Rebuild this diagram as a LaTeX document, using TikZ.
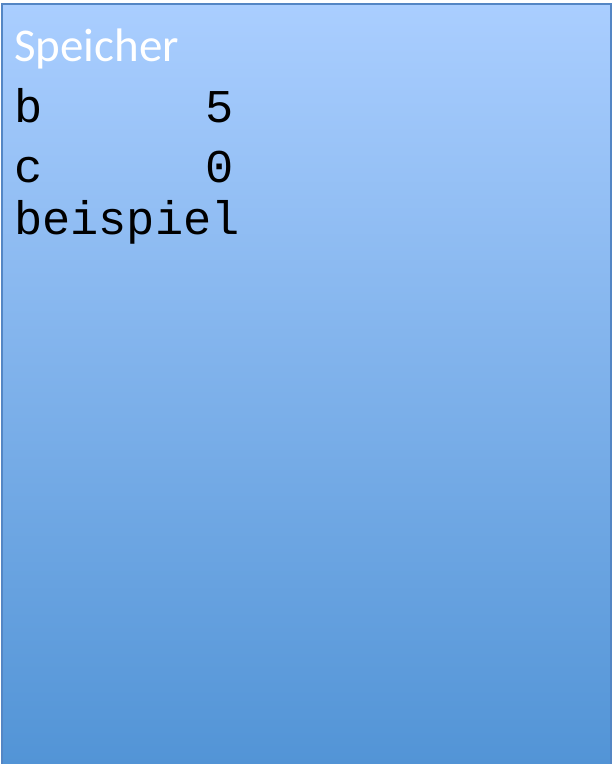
\documentclass[tikz,border=0pt]{standalone}
\usepackage{fontspec}
\setmainfont{Carlito}
\newfontfamily\codefont{Liberation Mono}
\usetikzlibrary{positioning}
\definecolor{memtop}{RGB}{170, 206, 255}
\definecolor{membottom}{RGB}{82, 148, 214}
\definecolor{memborder}{RGB}{84, 134, 196}
\tikzset{
  membox/.style={
    rectangle, draw=memborder, line width=2pt,
    top color=memtop, bottom color=membottom
  },
  titletext/.style={
    anchor=base west, inner sep=0pt, text=white,
    font=\fontsize{47}{47}\selectfont
  },
  codetext/.style={
    anchor=base west, inner sep=0pt, text=black,
    font=\codefont\fontsize{47}{47}\selectfont
  }
}
\begin{document}
\begin{tikzpicture}[x=1pt, y=1pt]

  \useasboundingbox (0,0) rectangle (612,764);

  % ── Memory box ────────────────────────────────────────
  \node[membox, minimum width=609pt, minimum height=761pt,
        anchor=north west, inner sep=0pt] (mem) at (1,761) {};

  % ── Title ─────────────────────────────────────────────
  \node[titletext] (speicher) at (14,702) {Speicher};

  % ── Variables ─────────────────────────────────────────
  \node[codetext] (rowb) at (14,641) {b};
  \node[codetext] (valb) at (205,641) {5};
  \node[codetext] (rowc) at (14,581) {c};
  \node[codetext] (valc) at (205,581) {0};
  \node[codetext] (beispiel) at (14,529) {beispiel};

\end{tikzpicture}
\end{document}
